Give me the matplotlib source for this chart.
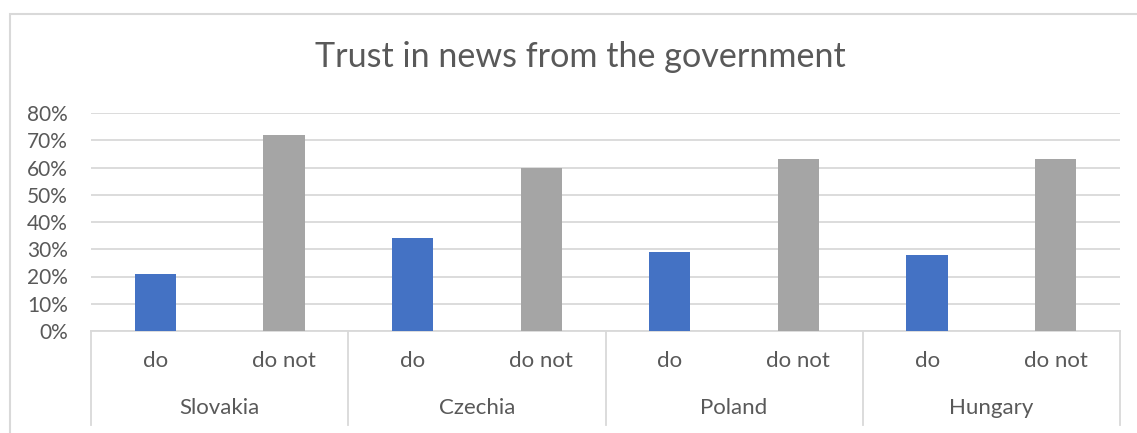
import matplotlib.pyplot as plt
import matplotlib.transforms as mtransforms
from matplotlib.patches import Rectangle

countries = ['Slovakia', 'Czechia', 'Poland', 'Hungary']
answers = ['do', 'do not']
trust_do = [21, 34, 29, 28]
trust_do_not = [72, 60, 63, 63]

BLUE = '#4472C4'
GREY = '#A5A5A5'
TEXT = '#595959'
GRID = '#D9D9D9'

plt.rcParams['font.family'] = ['Lato', 'DejaVu Sans']

fig = plt.figure(figsize=(11.37, 4.33), dpi=100)
ax = fig.add_axes([91 / 1137, 1 - 331 / 433, (1120 - 91) / 1137, (331 - 113) / 433])

# outer chart border (left and top visible, rest cropped)
fig.patches.append(Rectangle((10 / 1137, -0.1), 1.2, 1 - 14 / 433 + 0.1,
                             transform=fig.transFigure, fill=False,
                             edgecolor=GRID, linewidth=1.5))

# one slot per (country, answer)
vals = []
cols = []
for d, dn in zip(trust_do, trust_do_not):
    vals += [d, dn]
    cols += [BLUE, GREY]
xs = list(range(len(vals)))
ax.bar(xs, vals, width=0.32, color=cols, zorder=3)

ax.set_xlim(-0.5, len(vals) - 0.5)
ax.set_ylim(0, 80)
ax.set_yticks(range(0, 81, 10))
ax.set_yticklabels([f'{v}%' for v in range(0, 81, 10)], fontsize=15, color=TEXT)
ax.tick_params(axis='y', length=0, pad=16.5)
ax.set_xticks([])
ax.grid(axis='y', color=GRID, linewidth=1.3, zorder=0)
for s in ['top', 'right', 'left']:
    ax.spines[s].set_visible(False)
ax.spines['bottom'].set_color(GRID)
ax.spines['bottom'].set_linewidth(1.3)

# multi-level category axis
trans = mtransforms.blended_transform_factory(ax.transData, ax.transAxes)
bottom = -(425 - 331) / (331 - 113)
for i in range(len(countries) + 1):
    ax.plot([i * 2 - 0.5, i * 2 - 0.5], [0, bottom], transform=trans,
            color=GRID, linewidth=1.3, clip_on=False)
y1 = -(361 - 331) / (331 - 113)
y2 = -(408 - 331) / (331 - 113)
for i, c in enumerate(countries):
    for j, a in enumerate(answers):
        ax.text(i * 2 + j, y1, a, transform=trans, ha='center', va='center',
                fontsize=16, color=TEXT)
    ax.text(i * 2 + 0.5, y2, c, transform=trans, ha='center', va='center',
            fontsize=16, color=TEXT)

fig.text(580 / 1137, 1 - 57 / 433, 'Trust in news from the government',
         ha='center', va='center', fontsize=24.6, color=TEXT)

fig.savefig('out.png', dpi=100)
